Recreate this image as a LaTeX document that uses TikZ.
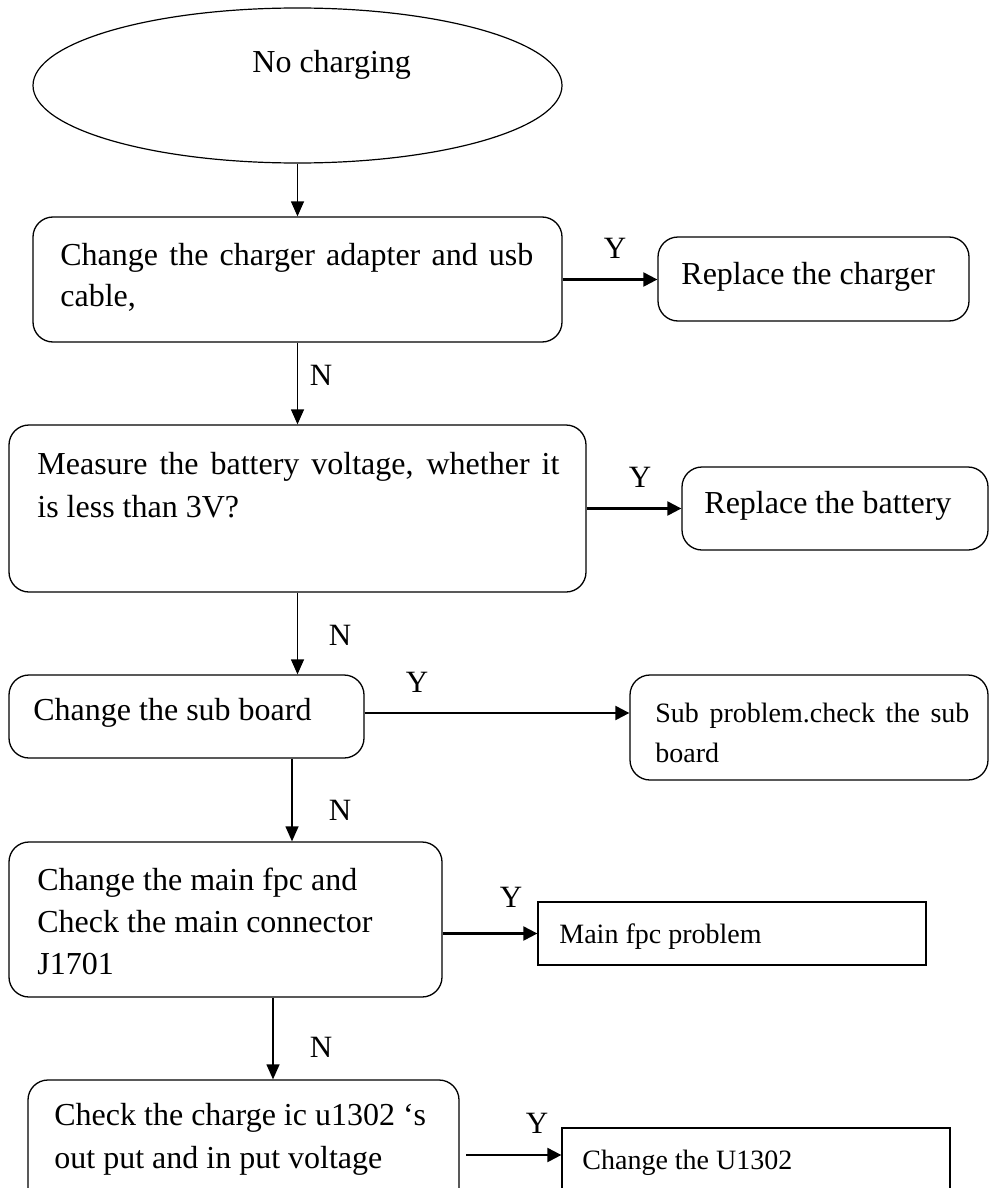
\documentclass[tikz,border=0pt]{standalone}
\usepackage{fontspec}
\setmainfont{Liberation Serif}
\usetikzlibrary{arrows.meta,shapes.geometric}
\tikzset{
  rbox/.style={draw, line width=0.65pt, rounded corners=10pt, inner sep=0pt},
  sbox/.style={draw, line width=0.65pt, inner sep=0pt},
  oval/.style={draw, ellipse, line width=0.6pt, inner sep=0pt},
  big/.style={font=\fontsize{16}{20}\selectfont, inner sep=0pt, anchor=base west},
  small/.style={font=\fontsize{14}{20}\selectfont, inner sep=0pt, anchor=base west},
  lab/.style={font=\fontsize{15.5}{18}\selectfont, inner sep=0pt, anchor=base},
  varrow/.style={line width=0.65pt, -{Triangle[length=7.5pt,width=6.5pt]}},
  harrow/.style={line width=1.1pt, -{Triangle[length=7pt,width=7pt]}}
}
\begin{document}
\begin{tikzpicture}[x=0.5pt,y=-0.5pt]
\clip (0,0) rectangle (990,1188);
\fill[white] (0,0) rectangle (990,1188);
% shapes
\node[oval, minimum width=264.5pt, minimum height=77.5pt] (ell) at (297.5,85.5) {};
\node[rbox, minimum width=264.5pt, minimum height=62.5pt] (b1) at (297.5,279.5) {};
\node[rbox, minimum width=155.5pt, minimum height=42pt] (r1) at (813.5,279) {};
\node[rbox, minimum width=288.5pt, minimum height=83.5pt] (b2) at (297.5,508.5) {};
\node[rbox, minimum width=153pt, minimum height=41.5pt] (r2) at (835,508.5) {};
\node[rbox, minimum width=177.5pt, minimum height=41.5pt] (b3) at (186.5,716.5) {};
\node[rbox, minimum width=179pt, minimum height=52.5pt] (r3) at (809,727.5) {};
\node[rbox, minimum width=216.5pt, minimum height=77.5pt] (b4) at (225.5,919.5) {};
\node[sbox, minimum width=194pt, minimum height=31.5pt] (r4) at (732,933.5) {};
\node[rbox, minimum width=215.5pt, minimum height=70pt] (b5) at (243.5,1150) {};
\node[sbox, minimum width=194pt, minimum height=46pt] (r5) at (756,1174) {};
% texts
\node[big] (t0) at (252,73) {No charging};
\node[big] (t1a) at (60,265) {\makebox[236.5pt][s]{Change the charger adapter and usb}};
\node[big] (t1b) at (60,306) {cable,};
\node[big] (tr1) at (681,284) {Replace the charger};
\node[big] (t2a) at (37,474) {\makebox[261pt][s]{Measure the battery voltage, whether it}};
\node[big] (t2b) at (37,517) {is less than 3V?};
\node[big] (tr2) at (704,513) {Replace the battery};
\node[big] (t3) at (33,720) {Change the sub board};
\node[small] (tr3a) at (655,722) {\makebox[157pt][s]{Sub problem.check the sub}};
\node[small] (tr3b) at (655,762) {board};
\node[big] (t4a) at (37,890) {Change the main fpc and};
\node[big] (t4b) at (37,932) {Check the main connector};
\node[big] (t4c) at (37,974) {J1701};
\node[small] (tr4) at (559,943) {Main fpc problem};
\node[big] (t5a) at (54,1125) {Check the charge ic u1302 ‘s};
\node[big] (t5b) at (54,1168) {out put and in put voltage};
\node[small] (tr5) at (582,1169) {Change the U1302};
% labels
\node[lab] (y1) at (615,258) {Y};
\node[lab] (n1) at (321,385) {N};
\node[lab] (y2) at (640,487) {Y};
\node[lab] (n2) at (340,645) {N};
\node[lab] (y3) at (417,692) {Y};
\node[lab] (n3) at (340,820) {N};
\node[lab] (y4) at (511,907) {Y};
\node[lab] (n4) at (321,1057) {N};
\node[lab] (y5) at (537,1133) {Y};
% helper coordinates
\coordinate (x3) at (292,0);
\coordinate (x4) at (273,0);
\coordinate (h3) at (0,713);
\coordinate (h5) at (466,1155);
% connectors
\draw[varrow] (ell.south) -- (b1.north);
\draw[harrow] (b1.east) -- (r1.west |- b1.east);
\draw[varrow] (b1.south) -- (b2.north);
\draw[harrow] (b2.east) -- (r2.west |- b2.east);
\draw[varrow] (b2.south) -- (b2.south |- b3.north);
\draw[harrow] (b3.east |- h3) -- (r3.west |- h3);
\draw[varrow] (b3.south -| x3) -- (b4.north -| x3);
\draw[harrow] (b4.east |- r4.west) -- (r4.west);
\draw[varrow] (b4.south -| x4) -- (b5.north -| x4);
\draw[harrow] (h5) -- (r5.west |- h5);
\end{tikzpicture}
\end{document}
